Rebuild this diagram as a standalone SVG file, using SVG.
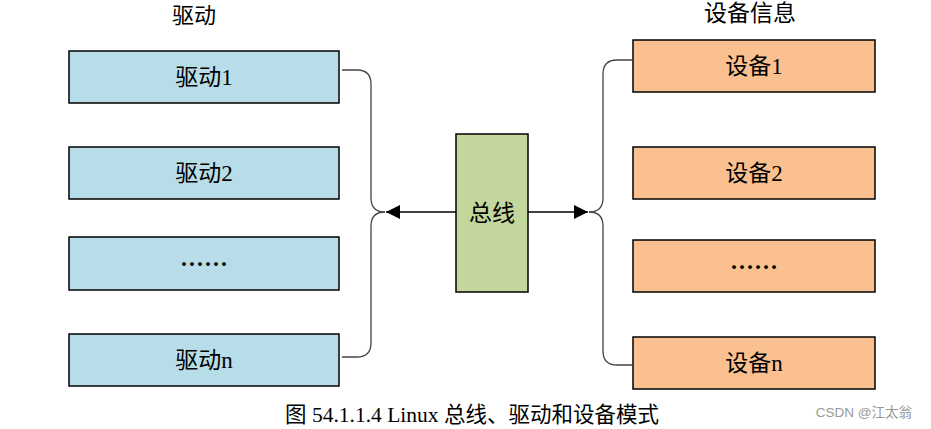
<svg xmlns="http://www.w3.org/2000/svg" width="931" height="429" viewBox="0 0 931 429">
<defs>
<style>
.t{font-family:"Liberation Serif","Noto Sans CJK SC",serif;fill:#000;text-anchor:middle;dominant-baseline:central}
.e{font-family:"Noto Sans CJK SC",sans-serif;fill:#000;text-anchor:middle;dominant-baseline:central;font-weight:bold}
.lb{fill:#b7dde8;stroke:#000;stroke-width:1.5}
.rb{fill:#fac090;stroke:#000;stroke-width:1.5}
.bus{fill:#c3d69b;stroke:#000;stroke-width:1.5}
.c{fill:none;stroke:#444;stroke-width:1.3}
</style>
<marker id="ah" viewBox="0 0 10 10" refX="10" refY="5" markerWidth="14" markerHeight="14" markerUnits="userSpaceOnUse" orient="auto">
<path d="M0,0 L10,5 L0,10 Z" fill="#000"/>
</marker>
</defs>
<rect width="931" height="429" fill="#fff"/>
<text class="t" x="194" y="15" font-size="22">驱动</text>
<text class="t" x="750" y="13" font-size="23">设备信息</text>
<g id="d1"><rect class="lb" x="69" y="51" width="270" height="52"/><text class="t" x="204" y="77" font-size="23">驱动1</text></g>
<g id="d2"><rect class="lb" x="69" y="147" width="270" height="52"/><text class="t" x="204" y="173" font-size="23">驱动2</text></g>
<g id="d3"><rect class="lb" x="69" y="237" width="270" height="53"/><text class="e" x="204" y="262" font-size="24">……</text></g>
<g id="dn"><rect class="lb" x="69" y="334" width="270" height="52"/><text class="t" x="204" y="360" font-size="23">驱动n</text></g>
<g id="bus"><rect class="bus" x="456" y="134" width="72" height="158"/><text class="t" x="492" y="213" font-size="23">总线</text></g>
<g id="s1"><rect class="rb" x="633" y="40" width="242" height="52"/><text class="t" x="754" y="66" font-size="23">设备1</text></g>
<g id="s2"><rect class="rb" x="633" y="147" width="242" height="52"/><text class="t" x="754" y="173" font-size="23">设备2</text></g>
<g id="s3"><rect class="rb" x="633" y="240" width="242" height="52"/><text class="e" x="754" y="265" font-size="24">……</text></g>
<g id="sn"><rect class="rb" x="633" y="337" width="242" height="52"/><text class="t" x="754" y="363" font-size="23">设备n</text></g>
<g id="connectors">
<path class="c" d="M342,70 H357 Q371,70 371,84 V198 Q371,212 385,212"/>
<path class="c" d="M342,357 H357 Q371,357 371,343 V226 Q371,212 385,212"/>
<path class="c" d="M633,60 H617 Q603,60 603,74 V198 Q603,212 589,212"/>
<path class="c" d="M633,365 H617 Q603,365 603,351 V226 Q603,212 589,212"/>
<line x1="456" y1="212" x2="386" y2="212" stroke="#000" stroke-width="1.3" marker-end="url(#ah)"/>
<line x1="528" y1="212" x2="588" y2="212" stroke="#000" stroke-width="1.3" marker-end="url(#ah)"/>
</g>
<text class="t" x="472" y="415" font-size="21.5">图 54.1.1.4 Linux 总线、驱动和设备模式</text>
<text x="912" y="412" font-family="Liberation Sans,'Noto Sans CJK SC',sans-serif" font-size="13.5" fill="#999" text-anchor="end" dominant-baseline="central">CSDN @江太翁</text>
</svg>
